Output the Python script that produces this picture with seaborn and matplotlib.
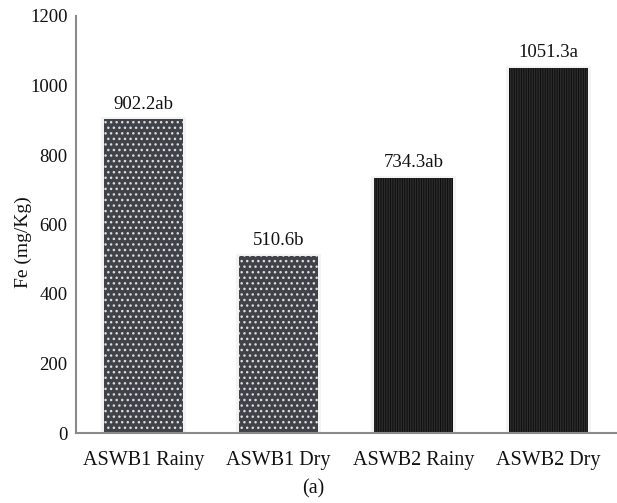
import matplotlib
matplotlib.use("Agg")
import matplotlib.pyplot as plt
import seaborn as sns

# Fe concentration per site and season
categories = ["ASWB1 Rainy", "ASWB1 Dry", "ASWB2 Rainy", "ASWB2 Dry"]
fe_values = [902.2, 510.6, 734.3, 1051.3]
group_letters = ["ab", "b", "ab", "a"]
y_ticks = [0, 200, 400, 600, 800, 1000, 1200]

sns.set_theme(style="white")
plt.rcParams["font.family"] = ["Liberation Serif", "DejaVu Serif"]
plt.rcParams["hatch.linewidth"] = 1.0

fig = plt.figure(figsize=(6.17, 5.03), dpi=100)
ax = fig.add_axes([76 / 617, 70 / 503, 540 / 617, 417 / 503])

# soft light halo behind the bars
sns.barplot(x=categories, y=fe_values, ax=ax, color="#f1f1f1", saturation=1,
            width=0.6, linewidth=3, edgecolor="#f3f3f3", order=categories)

bar_colors = ["#3f4248", "#3f4248", "#0e0e0e", "#0e0e0e"]
sns.barplot(x=categories, y=fe_values, hue=categories, palette=bar_colors,
            legend=False, ax=ax, saturation=1, width=0.58, linewidth=0,
            order=categories, hue_order=categories)

front_bars = [p for c in ax.containers[1:] for p in c]
hatches = ["...", "...", "|||||||", "|||||||"]
hatch_cols = ["#dcdcdc", "#dcdcdc", "#2c2c2c", "#2c2c2c"]
for patch, h, hc in zip(front_bars, hatches, hatch_cols):
    patch.set_hatch(h)
    patch.set_edgecolor(hc)
    patch.set_linewidth(0)

for i, (v, lt) in enumerate(zip(fe_values, group_letters)):
    ax.text(i, v + 20, f"{v}{lt}", ha="center", va="bottom", fontsize=13.5,
            color="#111111")

ax.set_xlim(-0.5, 3.5)
ax.set_ylim(0, 1200)
ax.set_yticks(y_ticks)
ax.set_yticklabels([str(t) for t in y_ticks])
ax.tick_params(axis="y", length=0, pad=6, labelsize=13.5, labelcolor="#111111")
ax.tick_params(axis="x", length=0, pad=13, labelsize=14.5, labelcolor="#111111")
ax.set_xlabel("")
ax.set_ylabel("Fe (mg/Kg)", fontsize=14, color="#111111")
ax.yaxis.set_label_coords(-0.082, 0.458)

for side in ["top", "right"]:
    ax.spines[side].set_visible(False)
for side in ["left", "bottom"]:
    ax.spines[side].set_color("#8a8a8a")
    ax.spines[side].set_linewidth(1.5)

fig.text(313 / 617, 1 - 489 / 503, "(a)", ha="center", va="center",
         fontsize=14.5, color="#111111")

fig.savefig("out.png", dpi=100)
